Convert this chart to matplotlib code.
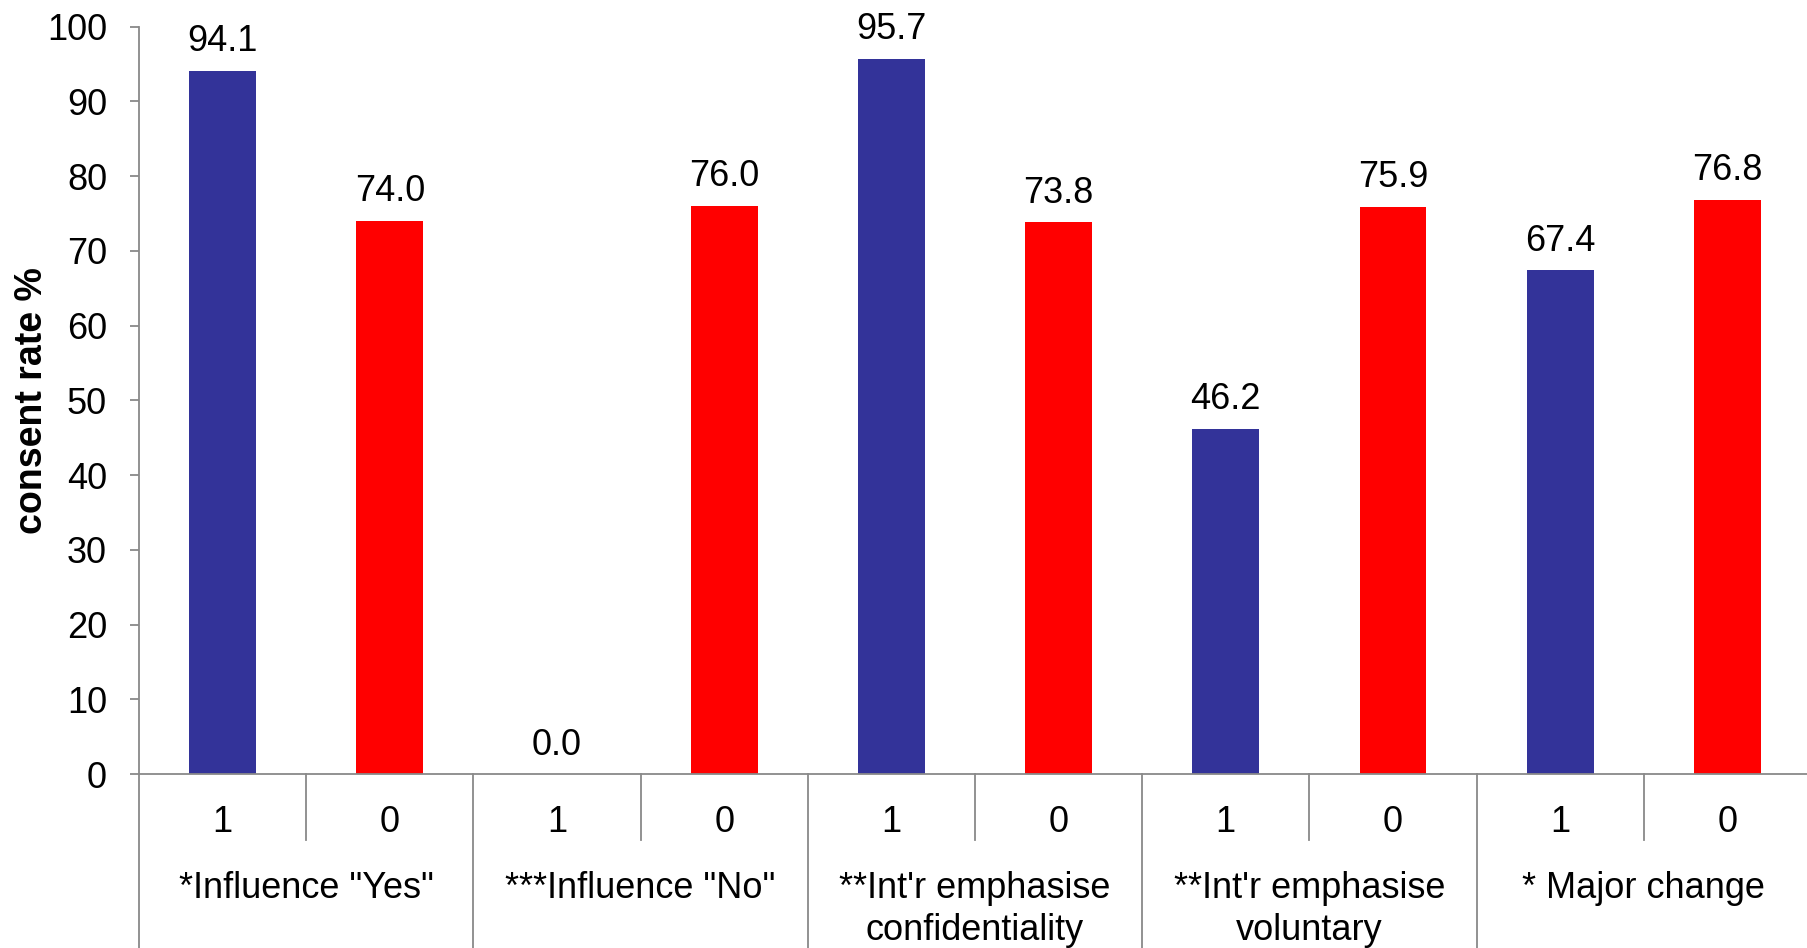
import matplotlib
matplotlib.use('Agg')
import matplotlib.pyplot as plt
import matplotlib.transforms as mtransforms
import numpy as np

# consent rate by interview feature, split into code 1 / code 0
groups = ['*Influence "Yes"', '***Influence "No"',
          "**Int'r emphasise\nconfidentiality", "**Int'r emphasise\nvoluntary",
          '* Major change']
codes = ['1', '0']
rate_1 = [94.1, 0.0, 95.7, 46.2, 67.4]
rate_0 = [74.0, 76.0, 73.8, 75.9, 76.8]
y_ticks = np.arange(0, 101, 10)

BLUE = '#333399'
RED = '#ff0000'
GREY = '#898989'
FS = 26

plt.rcParams['font.family'] = ['Liberation Sans', 'DejaVu Sans']

W, H = 1807, 948
fig = plt.figure(figsize=(W / 100, H / 100), dpi=100)
ax_l, ax_r, ax_b, ax_t = 139, 1811, 174, 26.5
ax_h = H - ax_b - ax_t
ax = fig.add_axes([ax_l / W, ax_b / H, (ax_r - ax_l) / W, ax_h / H])

x1 = np.arange(len(groups)) * 2
x0 = x1 + 1
ax.bar(x1, rate_1, width=0.4, color=BLUE)
ax.bar(x0, rate_0, width=0.4, color=RED)

# value labels above bars
for xs, vals in ((x1, rate_1), (x0, rate_0)):
    for x, v in zip(xs, vals):
        ax.annotate(f'{v:.1f}', (x, v), xytext=(0, 14), textcoords='offset points',
                    ha='center', va='baseline', fontsize=FS)

ax.set_xlim(-0.5, 2 * len(groups) - 0.5)
ax.set_ylim(0, 100)
ax.set_yticks(y_ticks)
ax.tick_params(axis='y', direction='out', length=6.5, width=1.3, color=GREY,
               labelsize=FS, pad=16.5)
ax.set_xticks([])

for side in ('top', 'right'):
    ax.spines[side].set_visible(False)
for side in ('left', 'bottom'):
    ax.spines[side].set_color(GREY)
    ax.spines[side].set_linewidth(1.3)

fig.text(32 / W, 1 - (ax_t + ax_h / 2) / H, 'consent rate %', rotation=90,
         ha='center', va='center', fontsize=27, fontweight='bold')

# two-level category axis below the plot
trans = mtransforms.blended_transform_factory(ax.transData, ax.transAxes)
code_y = -(822 - 774) / ax_h
line_ys = [-(888 - 774) / ax_h, -(930 - 774) / ax_h]
sub_bottom = -(840 - 774) / ax_h
grp_bottom = -(H - 774 + 10) / ax_h

for i, g in enumerate(groups):
    for j, c in enumerate(codes):
        ax.text(2 * i + j, code_y, c, transform=trans, ha='center', va='center',
                fontsize=FS, clip_on=False)
    for k, line in enumerate(g.split('\n')):
        ax.text(2 * i + 0.5, line_ys[k], line, transform=trans, ha='center',
                va='center', fontsize=FS, clip_on=False)
    ax.plot([2 * i + 0.5] * 2, [0, sub_bottom], transform=trans, color=GREY,
            lw=1.3, clip_on=False)
    ax.plot([2 * i - 0.5] * 2, [0, grp_bottom], transform=trans, color=GREY,
            lw=1.3, clip_on=False)

fig.savefig('out.png', dpi=100)
